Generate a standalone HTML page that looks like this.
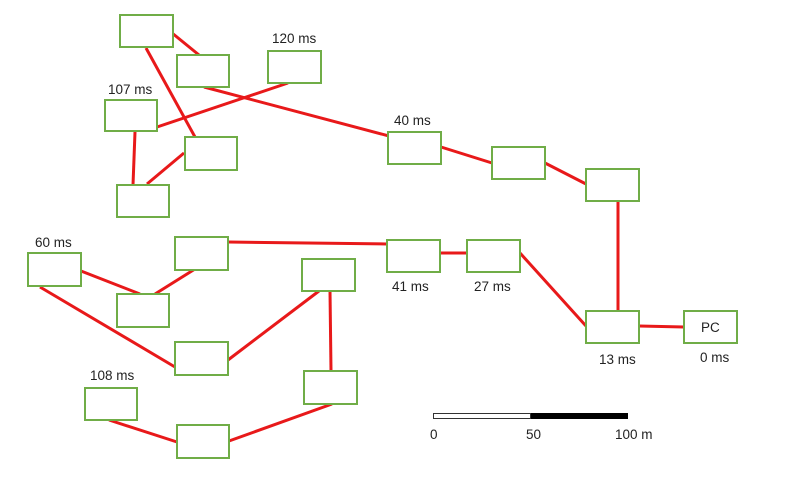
<!DOCTYPE html>
<html><head><meta charset="utf-8"><style>
html,body{margin:0;padding:0;background:#fff;}
svg text{font-family:"Liberation Sans",sans-serif;font-size:13.5px;fill:#222;}
</style></head><body>
<svg width="793" height="473" viewBox="0 0 793 473" xmlns="http://www.w3.org/2000/svg">
<g stroke="#e8191a" stroke-width="3" fill="none">
<line x1="172" y1="33" x2="199" y2="55"/>
<line x1="146" y1="48" x2="195" y2="137"/>
<line x1="204" y1="87" x2="389" y2="136"/>
<line x1="288" y1="83" x2="157" y2="127"/>
<line x1="135" y1="132" x2="133" y2="185"/>
<line x1="147" y1="184" x2="184" y2="153"/>
<line x1="81" y1="271" x2="140" y2="294"/>
<line x1="155" y1="294" x2="195" y2="269"/>
<line x1="228" y1="242" x2="387" y2="244"/>
<line x1="40" y1="287" x2="175" y2="367"/>
<line x1="228" y1="360" x2="319" y2="291"/>
<line x1="330" y1="291" x2="331" y2="371"/>
<line x1="109" y1="420" x2="177" y2="442"/>
<line x1="229" y1="441" x2="332" y2="404"/>
<line x1="441" y1="147" x2="492" y2="163"/>
<line x1="545" y1="163" x2="586" y2="184"/>
<line x1="618" y1="201" x2="618" y2="311"/>
<line x1="440" y1="253" x2="467" y2="253"/>
<line x1="520" y1="253" x2="586" y2="326"/>
<line x1="639" y1="326" x2="684" y2="327"/>
</g>
<g stroke="#70ad47" stroke-width="2" fill="#fff">
<rect x="120" y="15" width="53" height="32"/>
<rect x="177" y="55" width="52" height="32"/>
<rect x="268" y="51" width="53" height="32"/>
<rect x="105" y="100" width="52" height="31"/>
<rect x="185" y="137" width="52" height="33"/>
<rect x="117" y="185" width="52" height="32"/>
<rect x="28" y="253" width="53" height="33"/>
<rect x="175" y="237" width="53" height="33"/>
<rect x="117" y="294" width="52" height="33"/>
<rect x="302" y="259" width="53" height="32"/>
<rect x="175" y="342" width="53" height="33"/>
<rect x="85" y="388" width="52" height="32"/>
<rect x="304" y="371" width="53" height="33"/>
<rect x="177" y="425" width="52" height="33"/>
<rect x="388" y="132" width="53" height="32"/>
<rect x="492" y="147" width="53" height="32"/>
<rect x="586" y="169" width="53" height="32"/>
<rect x="387" y="240" width="53" height="32"/>
<rect x="467" y="240" width="53" height="32"/>
<rect x="586" y="311" width="53" height="32"/>
<rect x="684" y="311" width="53" height="32"/>
</g>
<text x="272" y="43">120 ms</text>
<text x="108" y="94">107 ms</text>
<text x="394" y="125">40 ms</text>
<text x="35" y="247">60 ms</text>
<text x="90" y="380">108 ms</text>
<text x="392" y="291">41 ms</text>
<text x="474" y="291">27 ms</text>
<text x="599" y="364">13 ms</text>
<text x="700" y="362">0 ms</text>
<text x="701" y="332">PC</text>
<rect x="433.5" y="413.5" width="97" height="5" fill="#fff" stroke="#333" stroke-width="1"/>
<rect x="531" y="413" width="97" height="6" fill="#000"/>
<text x="430" y="439">0</text>
<text x="526" y="439">50</text>
<text x="615" y="439">100 m</text>
</svg>
</body></html>
